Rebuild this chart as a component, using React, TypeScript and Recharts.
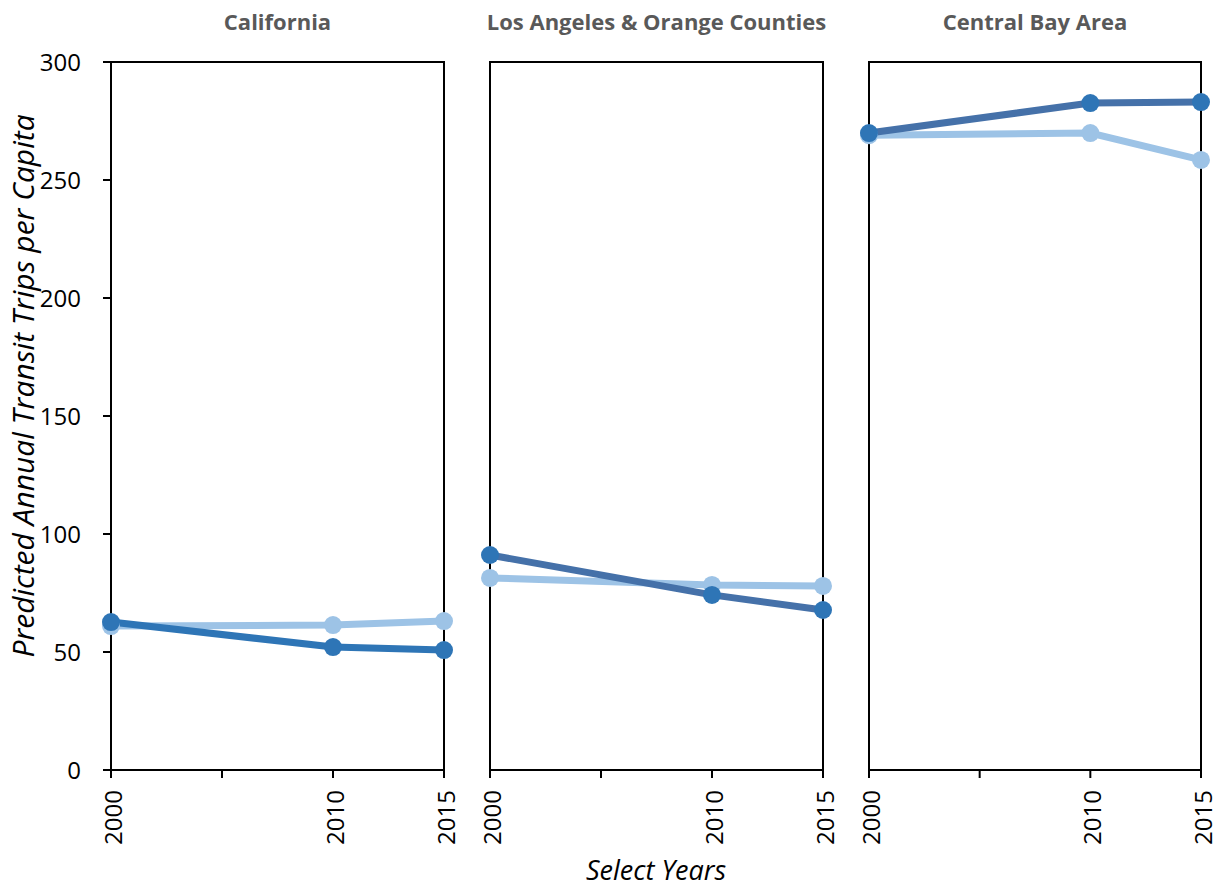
import React from 'react';
import { LineChart, Line, XAxis, YAxis, ReferenceArea } from 'recharts';

const YEARS = [2000, 2010, 2015];
const X_TICKS = [2000, 2005, 2010, 2015];
const Y_TICKS = [0, 50, 100, 150, 200, 250, 300];

const CA_DARK = [62.7, 52.1, 50.8];
const CA_LIGHT = [61, 61.4, 63.1];
const LA_DARK = [91.1, 74.2, 67.8];
const LA_LIGHT = [81.4, 78.4, 78];
const BAY_DARK = [269.9, 282.6, 283];
const BAY_LIGHT = [269, 269.9, 258.5];

const PANEL_TITLES = ['California', 'Los Angeles & Orange Counties', 'Central Bay Area'];

const FONT = '"Open Sans", Lato, sans-serif';
const LIGHT = '#9dc3e6';
const DOT_DARK = '#2e75b6';

type PanelProps = {
  title: string;
  dark: number[];
  light: number[];
  plotLeft: number;
  plotWidth: number;
  showYTicks: boolean;
  darkLine: string;
};

const PLOT_TOP = 62;
const PLOT_BOTTOM = 770;
const H = 890;

// rotated year labels, 2005 gets only a tick mark
const YearTick = (props: any) => {
  const { x, y, payload } = props;
  if (payload.value === 2005) return null;
  return (
    <text
      x={0}
      y={0}
      transform={`translate(${x + 1},${y}) rotate(-90)`}
      textAnchor="end"
      dominantBaseline="central"
      fill="#000"
      fontSize={24}
      fontFamily={FONT}
    >
      {payload.value}
    </text>
  );
};

const Panel: React.FC<PanelProps> = ({ title, dark, light, plotLeft, plotWidth, showYTicks, darkLine }) => {
  const data = YEARS.map((y, i) => ({ year: y, dark: dark[i], light: light[i] }));
  const yw = showYTicks ? 66 : 16;
  const left = plotLeft - yw - 10;
  const width = plotWidth + yw + 10 + 20;

  return (
    <>
      <div
        style={{
          position: 'absolute', left: plotLeft - 20, width: plotWidth + 40, top: 6,
          textAlign: 'center', fontFamily: FONT, fontWeight: 700, fontSize: 22, color: '#595959',
          whiteSpace: 'nowrap'
        }}
      >
        {title}
      </div>
      <div style={{ position: 'absolute', left, top: 0 }}>
        <LineChart
          width={width}
          height={H}
          data={data}
          margin={{ top: PLOT_TOP, right: 20, left: 10, bottom: 0 }}
        >
          <ReferenceArea x1={2000} x2={2015} y1={0} y2={300} fill="none" stroke="#000" strokeWidth={2} strokeOpacity={1} fillOpacity={0} />
          <XAxis
            dataKey="year"
            type="number"
            domain={[2000, 2015]}
            ticks={X_TICKS}
            interval={0}
            height={H - PLOT_BOTTOM}
            axisLine={{ stroke: '#000', strokeWidth: 2 }}
            tickLine={{ stroke: '#000', strokeWidth: 2 }}
            tickSize={8}
            tickMargin={12}
            tick={<YearTick />}
          />
          <YAxis
            type="number"
            domain={[0, 300]}
            ticks={Y_TICKS}
            interval={0}
            width={yw}
            axisLine={{ stroke: '#000', strokeWidth: 2 }}
            tickLine={showYTicks ? { stroke: '#000', strokeWidth: 2 } : false}
            tickSize={8}
            tickMargin={22}
            tick={showYTicks ? { fill: '#000', fontSize: 24, fontFamily: FONT } : false}
          />
          <Line
            dataKey="light"
            stroke={LIGHT}
            strokeWidth={7}
            dot={{ r: 9, fill: LIGHT, stroke: 'none' }}
            activeDot={false}
            isAnimationActive={false}
          />
          <Line
            dataKey="dark"
            stroke={darkLine}
            strokeWidth={7}
            dot={{ r: 9, fill: DOT_DARK, stroke: 'none' }}
            activeDot={false}
            isAnimationActive={false}
          />
        </LineChart>
      </div>
    </>
  );
};

export default function App() {
  return (
    <div style={{ position: 'absolute', left: 0, top: 0, width: 1222, height: 890, background: '#fff', overflow: 'hidden' }}>
      <Panel title={PANEL_TITLES[0]} dark={CA_DARK} light={CA_LIGHT} plotLeft={111} plotWidth={333} showYTicks darkLine="#2e75b6" />
      <Panel title={PANEL_TITLES[1]} dark={LA_DARK} light={LA_LIGHT} plotLeft={490} plotWidth={333} showYTicks={false} darkLine="#4571a9" />
      <Panel title={PANEL_TITLES[2]} dark={BAY_DARK} light={BAY_LIGHT} plotLeft={869} plotWidth={332} showYTicks={false} darkLine="#4571a9" />
      <div style={{ position: 'absolute', left: 22, top: 386, width: 0, height: 0 }}>
        <div
          style={{
            position: 'absolute', left: 0, top: 0, transform: 'translate(-50%, -50%) rotate(-90deg)',
            whiteSpace: 'nowrap', fontFamily: FONT, fontStyle: 'italic', fontSize: 30, color: '#000'
          }}
        >
          Predicted Annual Transit Trips per Capita
        </div>
      </div>
      <div
        style={{
          position: 'absolute', left: 506, width: 300, top: 856, height: 28, textAlign: 'center',
          fontFamily: FONT, fontStyle: 'italic', fontSize: 27, color: '#000', lineHeight: '28px'
        }}
      >
        Select Years
      </div>
    </div>
  );
}
